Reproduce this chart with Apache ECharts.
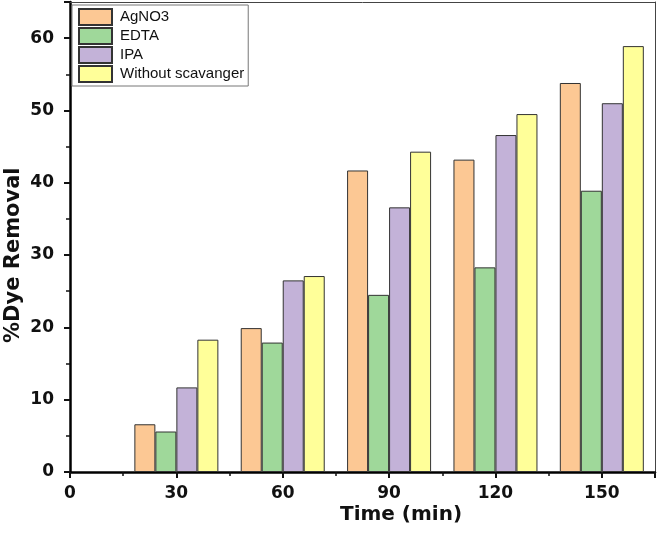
<!DOCTYPE html>
<html>
<head>
<meta charset="utf-8">
<script src="https://cdn.jsdelivr.net/npm/echarts@6/dist/echarts.min.js"></script>
<style>
  html, body { margin: 0; padding: 0; background: #fff; }
  #chart { width: 658px; height: 541px; }
</style>
</head>
<body>
<div id="chart"></div>
<script>
// time points (min)
const times = [30, 60, 90, 120, 150];
const agno3 = [6.6, 19.9, 41.7, 43.2, 53.8];
const edta = [5.6, 17.9, 24.5, 28.3, 38.9];
const ipa = [11.7, 26.5, 36.6, 46.6, 51.0];
const withoutScav = [18.3, 27.1, 44.3, 49.5, 58.9];
const seriesNames = ["AgNO3", "EDTA", "IPA", "Without scavanger"];
const colors = ["#fcc894", "#9fd89a", "#c3b2d8", "#ffff99"];

const chart = echarts.init(document.getElementById("chart"));

const pair = (vals) => times.map((t, i) => [t, vals[i]]);
const allData = [agno3, edta, ipa, withoutScav];

const boldFam = "DejaVu Sans, sans-serif";
const plainFam = "Liberation Sans, Arial, sans-serif";

const tickLabel = {
  fontFamily: boldFam, fontSize: 17, fontWeight: "bold", color: "#111"
};

// frame axes (top and right) only draw thin lines
const frameAxis = {
  type: "value",
  axisLine: { show: true, onZero: false, lineStyle: { color: "#444", width: 1 } },
  axisTick: { show: false },
  axisLabel: { show: false },
  splitLine: { show: false }
};

const option = {
  animation: false,
  grid: { left: 70, right: 3, top: 2, bottom: 69 },
  legend: {
    orient: "vertical",
    left: 72, top: 5,
    itemWidth: 33, itemHeight: 16, itemGap: 1,
    padding: [3, 4, 3, 6],
    backgroundColor: "#fff",
    borderColor: "#777",
    borderWidth: 1,
    borderRadius: 0,
    icon: "rect",
    textStyle: { fontFamily: plainFam, fontSize: 15, color: "#111", lineHeight: 16, padding: [0, 0, 0, 3] },
    data: seriesNames
  },
  xAxis: [
    {
      type: "value",
      min: 0, max: 165, interval: 30,
      splitLine: { show: false },
      axisLine: { onZero: false, lineStyle: { color: "#000", width: 2.5 } },
      axisTick: { inside: false, length: 6, lineStyle: { color: "#111", width: 2 } },
      minorTick: { show: true, splitNumber: 2, length: 4, lineStyle: { color: "#111", width: 1.5 } },
      axisLabel: Object.assign({
        margin: 13,
        formatter: (v) => (v % 30 === 0 && v <= 150 ? String(v) : "")
      }, tickLabel)
    },
    Object.assign({ position: "top", min: 0, max: 165 }, frameAxis)
  ],
  yAxis: [
    {
      type: "value",
      position: "left",
      min: 0, max: 65, interval: 10,
      splitLine: { show: false },
      axisLine: { show: true, onZero: false, lineStyle: { color: "#000", width: 2.5 } },
      axisTick: { show: true, inside: false, length: 6, lineStyle: { color: "#111", width: 2 } },
      minorTick: { show: true, splitNumber: 2, length: 4, lineStyle: { color: "#111", width: 1.5 } },
      axisLabel: Object.assign({
        margin: 16,
        formatter: (v) => (v <= 60 ? String(v) : "")
      }, tickLabel)
    },
    Object.assign({ position: "right", min: 0, max: 65 }, frameAxis)
  ],
  graphic: [
    {
      type: "text",
      left: 340, top: 505,
      style: { text: "Time (min)", fontFamily: boldFam, fontSize: 20, fontWeight: "bold", fill: "#111" }
    },
    {
      type: "text",
      x: 3, y: 343,
      rotation: Math.PI / 2,
      style: { text: "%Dye Removal", fontFamily: boldFam, fontSize: 21, fontWeight: "bold", fill: "#111" }
    }
  ],
  series: seriesNames.map((name, k) => ({
    name: name,
    type: "bar",
    barWidth: 21,
    barGap: "0%",
    data: pair(allData[k]),
    itemStyle: { color: colors[k], borderColor: "#333", borderWidth: 1 }
  }))
};

chart.setOption(option);
</script>
</body>
</html>
